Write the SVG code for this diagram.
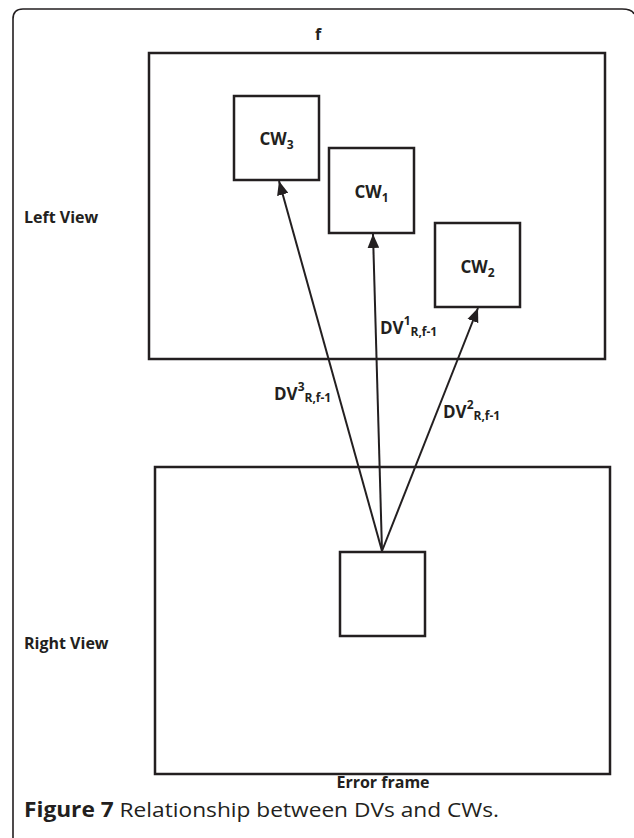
<svg xmlns="http://www.w3.org/2000/svg" width="634" height="838" viewBox="0 0 634 838">
<style>
.box{fill:#fff;stroke:#231f20;stroke-width:2.5}
.frame{fill:none;stroke:#231f20;stroke-width:1.6}
.lbl{font-family:"Open Sans","Liberation Sans",sans-serif;font-weight:bold;font-size:16px;fill:#231f20}
.cw{font-size:17px}
.dv{font-size:17px}
.sm{font-size:12px}
.conn{stroke:#231f20;stroke-width:2;fill:none}
.cap{font-family:"Open Sans","Liberation Sans",sans-serif;font-size:20.5px;fill:#231f20}
</style>
<defs>
<marker id="arr" viewBox="0 0 12 10" refX="12" refY="5" markerWidth="14" markerHeight="12" markerUnits="userSpaceOnUse" orient="auto">
<path d="M0,0 L12,5 L0,10 z" fill="#231f20"/>
</marker>
</defs>
<path class="frame" d="M13,838 L13,19 Q13,9 23,9 L622,9 Q632,9 634,14"/>
<text class="lbl" x="318" y="40" text-anchor="middle">f</text>
<g id="left-view">
<rect class="box" x="149" y="53" width="456" height="306"/>
<text class="lbl" x="24" y="223">Left View</text>
</g>
<g id="cw3">
<rect class="box" x="234" y="96" width="85" height="84"/>
<text class="lbl cw" x="276.5" y="145" text-anchor="middle">CW<tspan class="sm" dy="4">3</tspan></text>
</g>
<g id="cw1">
<rect class="box" x="329" y="148" width="85" height="85"/>
<text class="lbl cw" x="371.5" y="198" text-anchor="middle">CW<tspan class="sm" dy="4">1</tspan></text>
</g>
<g id="cw2">
<rect class="box" x="435" y="223" width="85" height="84"/>
<text class="lbl cw" x="477.5" y="273" text-anchor="middle">CW<tspan class="sm" dy="4">2</tspan></text>
</g>
<g id="right-view">
<rect class="box" x="155" y="467" width="455" height="307"/>
<text class="lbl" x="24" y="649">Right View</text>
<text class="lbl" x="383" y="788" text-anchor="middle" font-size="17">Error frame</text>
</g>
<g id="error-block">
<rect class="box" x="340" y="552" width="85" height="84"/>
</g>
<g id="connectors">
<line class="conn" x1="382" y1="551" x2="279" y2="181" marker-end="url(#arr)"/>
<line class="conn" x1="382" y1="551" x2="373" y2="234" marker-end="url(#arr)"/>
<line class="conn" x1="382" y1="551" x2="478" y2="308" marker-end="url(#arr)"/>
<text class="lbl dv" x="380" y="334">DV<tspan class="sm" dy="-9">1</tspan><tspan class="sm" dy="11">R,f-1</tspan></text>
<text class="lbl dv" x="274" y="400">DV<tspan class="sm" dy="-9">3</tspan><tspan class="sm" dy="11">R,f-1</tspan></text>
<text class="lbl dv" x="443" y="418">DV<tspan class="sm" dy="-9">2</tspan><tspan class="sm" dy="11">R,f-1</tspan></text>
</g>
<text class="cap" x="24" y="817" textLength="475" lengthAdjust="spacingAndGlyphs"><tspan font-weight="bold">Figure 7</tspan> Relationship between DVs and CWs.</text>
</svg>
